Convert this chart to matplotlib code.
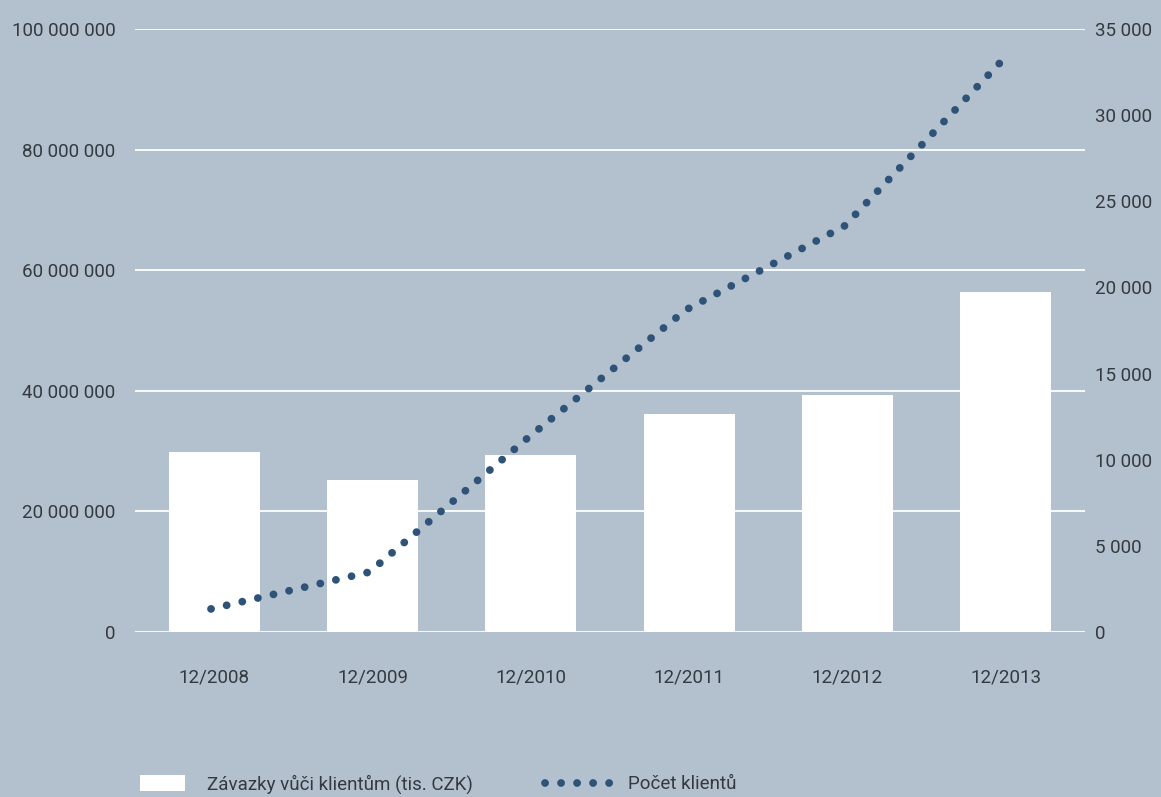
import numpy as np
import matplotlib.pyplot as plt
from matplotlib.patches import Patch
from matplotlib.lines import Line2D
from matplotlib.ticker import FuncFormatter

# data
years = ['12/2008', '12/2009', '12/2010', '12/2011', '12/2012', '12/2013']
zavazky = [29800000, 25200000, 29400000, 36200000, 39300000, 56400000]
klienti = [1340, 3480, 11260, 18700, 23560, 33200]

bg = '#b3c1ce'
dot_col = '#2f5378'
txt_col = '#333a40'

plt.rcParams['font.family'] = ['Roboto', 'DejaVu Sans']

def fmt_space(v, pos):
    return '{:,.0f}'.format(v).replace(',', ' ')

fig = plt.figure(figsize=(11.61, 7.97), dpi=100, facecolor=bg)
ax = fig.add_axes([0.1163, 0.207, 0.8182, 0.7566])
ax.set_facecolor(bg)
ind = np.arange(len(years))

ax.bar(ind, zavazky, 0.575, color='white', zorder=2)
ax.set_ylim(0, 100000000)
ax.set_xlim(-0.5, 5.5)
ax.set_yticks(np.arange(0, 100000001, 20000000))
ax.yaxis.set_major_formatter(FuncFormatter(fmt_space))
ax.grid(axis='y', color='white', linewidth=1.3, zorder=1)
ax.set_axisbelow(True)
ax.set_xticks(ind)
ax.set_xticklabels(years)
ax.tick_params(length=0, labelsize=13.5, colors=txt_col)
ax.tick_params(axis='y', pad=14)
ax.tick_params(axis='x', pad=26)
for s in ax.spines.values():
    s.set_visible(False)

ax2 = ax.twinx()
ax2.plot(ind - 0.02, klienti, color=dot_col, linewidth=5.6,
         linestyle=(0, (0.01, 2.05)), dash_capstyle='round', zorder=3)
ax2.set_ylim(0, 35000)
ax2.set_yticks(np.arange(0, 35001, 5000))
ax2.yaxis.set_major_formatter(FuncFormatter(fmt_space))
ax2.tick_params(length=0, labelsize=13.5, colors=txt_col, pad=7)
for s in ax2.spines.values():
    s.set_visible(False)

# legend at the bottom, two separate pieces
fs = 13.5
leg1 = fig.legend([Patch(facecolor='white', edgecolor='none')],
                  ['Závazky vůči klientům (tis. CZK)'],
                  loc='center left', bbox_to_anchor=(0.106, 0.016),
                  frameon=False, fontsize=fs, handlelength=2.4, handleheight=0.9,
                  handletextpad=1.2, labelcolor=txt_col)
leg2 = fig.legend([Line2D([0], [0], color=dot_col, linewidth=5.6,
                          linestyle=(0, (0.01, 2.05)), dash_capstyle='round')],
                  ['Počet klientů'],
                  loc='center left', bbox_to_anchor=(0.455, 0.016),
                  frameon=False, fontsize=fs, handlelength=3.55,
                  handletextpad=0.85, labelcolor=txt_col)

plt.savefig('out.png', dpi=100, facecolor=bg)
